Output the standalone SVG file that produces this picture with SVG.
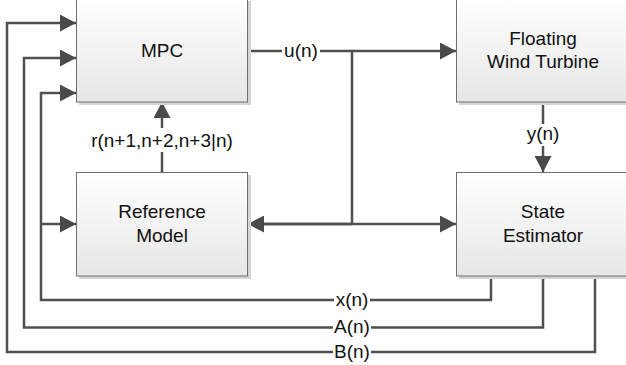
<svg xmlns="http://www.w3.org/2000/svg" width="626" height="365" viewBox="0 0 626 365">
<style>
.box{fill:url(#g);stroke:#6e6e6e;stroke-width:1}
.sh{fill:#d4d4d4}
.t{font-family:"Liberation Sans",Arial,sans-serif;font-size:19px;fill:#111;text-anchor:middle}
.ln{fill:none;stroke:#505050;stroke-width:2.5}
.bg{fill:#fff}
</style>
<defs>
<linearGradient id="g" x1="0" y1="0" x2="0" y2="1">
<stop offset="0" stop-color="#ffffff"/>
<stop offset="1" stop-color="#e6e6e6"/>
</linearGradient>
<marker id="a" markerUnits="userSpaceOnUse" markerWidth="17" markerHeight="17" refX="16" refY="8.5" orient="auto">
<path d="M0,0 L16,8.5 L0,17 z" fill="#4a4a4a"/>
</marker>
</defs>
<rect width="626" height="365" fill="#fff"/>
<g id="connectors">
<path class="ln" d="M248,51 H456" marker-end="url(#a)"/>
<path class="ln" d="M352,51 V224"/>
<path class="ln" d="M248,224 H456" marker-end="url(#a)"/>
<path class="ln" d="M352,224 H248" marker-end="url(#a)"/>
<path class="ln" d="M162,172 V102" marker-end="url(#a)"/>
<path class="ln" d="M543,102 V172" marker-end="url(#a)"/>
<path class="ln" d="M491,276 V300 H41 V93 H76" marker-end="url(#a)"/>
<path class="ln" d="M41,224 H76" marker-end="url(#a)"/>
<path class="ln" d="M543,276 V327.5 H24 V58 H76" marker-end="url(#a)"/>
<path class="ln" d="M595,276 V352 H7 V23 H76" marker-end="url(#a)"/>
</g>
<g id="labels">
<rect class="bg" x="282" y="40" width="38" height="22"/>
<text class="t" x="301" y="57">u(n)</text>
<rect class="bg" x="88" y="128" width="148" height="24"/>
<text class="t" x="162" y="147">r(n+1,n+2,n+3|n)</text>
<rect class="bg" x="526" y="124" width="34" height="22"/>
<text class="t" x="543" y="140">y(n)</text>
<rect class="bg" x="334" y="289" width="36" height="22"/>
<text class="t" x="352" y="306">x(n)</text>
<rect class="bg" x="333" y="316" width="38" height="22"/>
<text class="t" x="352" y="333">A(n)</text>
<rect class="bg" x="333" y="341" width="38" height="22"/>
<text class="t" x="352" y="358">B(n)</text>
</g>
<g id="mpc">
<rect class="sh" x="79" y="1" width="172" height="104"/>
<rect class="box" x="76.5" y="-2" width="171" height="104"/>
<text class="t" x="162" y="57">MPC</text>
</g>
<g id="turbine">
<rect class="sh" x="459" y="1" width="172" height="104"/>
<rect class="box" x="456.5" y="-2" width="172" height="104"/>
<text class="t" x="543" y="45">Floating</text>
<text class="t" x="543" y="68">Wind Turbine</text>
</g>
<g id="reference">
<rect class="sh" x="79" y="175" width="172" height="104"/>
<rect class="box" x="76.5" y="172.5" width="171" height="103.5"/>
<text class="t" x="162" y="218">Reference</text>
<text class="t" x="162" y="242">Model</text>
</g>
<g id="estimator">
<rect class="sh" x="459" y="175" width="172" height="104"/>
<rect class="box" x="456.5" y="172.5" width="172" height="103.5"/>
<text class="t" x="543" y="218">State</text>
<text class="t" x="543" y="242">Estimator</text>
</g>
</svg>
